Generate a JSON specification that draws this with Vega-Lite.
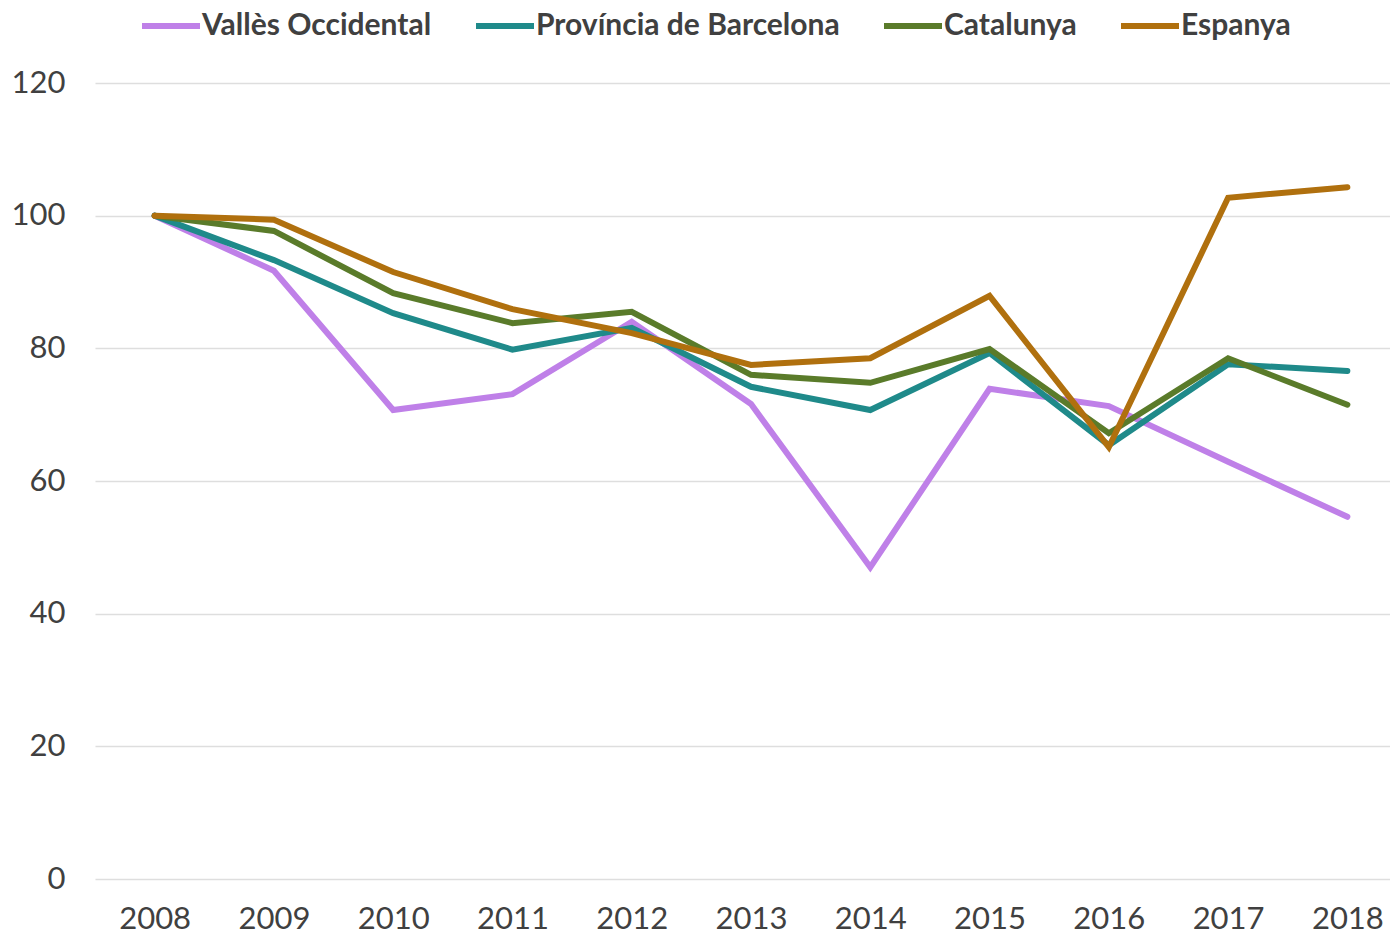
{
  "$schema": "https://vega.github.io/schema/vega-lite/v6.json",
  "width": 1312,
  "height": 796,
  "autosize": {"type": "none"},
  "padding": {"left": 95, "top": 83, "right": 0, "bottom": 55},
  "background": "white",
  "config": {
    "font": "Lato",
    "view": {"stroke": null},
    "axis": {
      "labelFont": "Lato",
      "labelColor": "#404040",
      "labelFontSize": 31,
      "domain": false,
      "ticks": false,
      "title": null
    }
  },
  "data": {
    "values": [
      {"year": "2008", "region": "Vallès Occidental", "value": 100},
      {"year": "2009", "region": "Vallès Occidental", "value": 91.7},
      {"year": "2010", "region": "Vallès Occidental", "value": 70.7},
      {"year": "2011", "region": "Vallès Occidental", "value": 73.1},
      {"year": "2012", "region": "Vallès Occidental", "value": 84.0},
      {"year": "2013", "region": "Vallès Occidental", "value": 71.6},
      {"year": "2014", "region": "Vallès Occidental", "value": 47.0},
      {"year": "2015", "region": "Vallès Occidental", "value": 73.9},
      {"year": "2016", "region": "Vallès Occidental", "value": 71.3},
      {"year": "2017", "region": "Vallès Occidental", "value": 62.9},
      {"year": "2018", "region": "Vallès Occidental", "value": 54.6},
      {"year": "2008", "region": "Província de Barcelona", "value": 100},
      {"year": "2009", "region": "Província de Barcelona", "value": 93.3},
      {"year": "2010", "region": "Província de Barcelona", "value": 85.3},
      {"year": "2011", "region": "Província de Barcelona", "value": 79.8},
      {"year": "2012", "region": "Província de Barcelona", "value": 83.1},
      {"year": "2013", "region": "Província de Barcelona", "value": 74.2},
      {"year": "2014", "region": "Província de Barcelona", "value": 70.7},
      {"year": "2015", "region": "Província de Barcelona", "value": 79.3},
      {"year": "2016", "region": "Província de Barcelona", "value": 65.4},
      {"year": "2017", "region": "Província de Barcelona", "value": 77.6},
      {"year": "2018", "region": "Província de Barcelona", "value": 76.6},
      {"year": "2008", "region": "Catalunya", "value": 100},
      {"year": "2009", "region": "Catalunya", "value": 97.7},
      {"year": "2010", "region": "Catalunya", "value": 88.3},
      {"year": "2011", "region": "Catalunya", "value": 83.8},
      {"year": "2012", "region": "Catalunya", "value": 85.5},
      {"year": "2013", "region": "Catalunya", "value": 76.0},
      {"year": "2014", "region": "Catalunya", "value": 74.8},
      {"year": "2015", "region": "Catalunya", "value": 79.9},
      {"year": "2016", "region": "Catalunya", "value": 67.2},
      {"year": "2017", "region": "Catalunya", "value": 78.5},
      {"year": "2018", "region": "Catalunya", "value": 71.5},
      {"year": "2008", "region": "Espanya", "value": 100},
      {"year": "2009", "region": "Espanya", "value": 99.4},
      {"year": "2010", "region": "Espanya", "value": 91.5},
      {"year": "2011", "region": "Espanya", "value": 85.9},
      {"year": "2012", "region": "Espanya", "value": 82.3},
      {"year": "2013", "region": "Espanya", "value": 77.5},
      {"year": "2014", "region": "Espanya", "value": 78.5},
      {"year": "2015", "region": "Espanya", "value": 87.9},
      {"year": "2016", "region": "Espanya", "value": 65.1},
      {"year": "2017", "region": "Espanya", "value": 102.7},
      {"year": "2018", "region": "Espanya", "value": 104.3}
    ]
  },
  "mark": {"type": "line", "strokeWidth": 6, "strokeCap": "round"},
  "encoding": {
    "x": {
      "field": "year",
      "type": "ordinal",
      "scale": {"type": "point", "padding": 0.5},
      "axis": {"labelAngle": 0, "grid": false, "labelPadding": 25}
    },
    "y": {
      "field": "value",
      "type": "quantitative",
      "scale": {"domain": [0, 120], "nice": false},
      "axis": {
        "values": [0, 20, 40, 60, 80, 100, 120],
        "grid": true,
        "gridColor": "#dedede",
        "gridWidth": 1.5,
        "labelPadding": 30
      }
    },
    "color": {
      "field": "region",
      "type": "nominal",
      "sort": ["Vallès Occidental", "Província de Barcelona", "Catalunya", "Espanya"],
      "scale": {
        "domain": ["Vallès Occidental", "Província de Barcelona", "Catalunya", "Espanya"],
        "range": ["#BF80E8", "#1F8A8A", "#5A7B2A", "#B0700E"]
      },
      "legend": {
        "title": null,
        "orient": "none",
        "direction": "horizontal",
        "legendX": 44,
        "legendY": -89,
        "symbolType": "stroke",
        "symbolSize": 3364,
        "symbolStrokeWidth": 6,
        "labelFont": "Lato",
        "labelFontWeight": "bold",
        "labelFontSize": 30,
        "labelColor": "#404040",
        "labelOffset": -1,
        "columnPadding": 32,
        "labelLimit": 500
      }
    },
    "order": {"field": "region", "type": "nominal"}
  }
}
